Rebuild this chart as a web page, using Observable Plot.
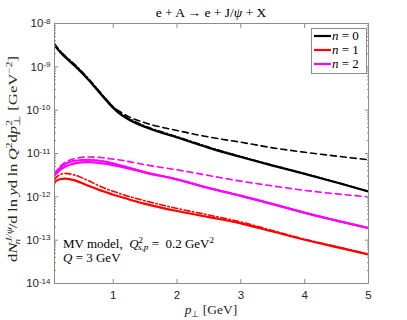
<!DOCTYPE html>
<html><head><meta charset="utf-8">
<script src="https://cdn.jsdelivr.net/npm/d3@7"></script>
<script src="https://cdn.jsdelivr.net/npm/@observablehq/plot@0.6"></script>
<style>body{margin:0;background:#fff} svg{display:block}</style>
</head><body><div id="chart"></div>
<script>
// transverse momentum p_perp [GeV]
const pt = [0.08, 0.15, 0.25, 0.4, 0.6, 0.8, 0.9, 1.0, 1.1, 1.25, 1.5, 2, 2.5, 3, 3.5, 4, 4.5, 5];

// n = 0 (black)
const n0Solid   = [3.16e-9, 2.34e-9, 1.66e-9, 1.05e-9, 5.25e-10, 2.4e-10, 1.62e-10, 1.12e-10, 8.3e-11, 6.0e-11, 4.07e-11, 2.34e-11, 1.35e-11, 8.3e-12, 5.25e-12, 3.39e-12, 2.14e-12, 1.32e-12];
const n0DashDot = [3.4e-9, 2.5e-9, 1.78e-9, 1.12e-9, 5.6e-10, 2.55e-10, 1.72e-10, 1.19e-10, 8.8e-11, 6.4e-11, 4.3e-11, 2.45e-11, 1.4e-11, 8.5e-12, 5.35e-12, 3.43e-12, 2.16e-12, 1.33e-12];
const n0Dashed  = [3.3e-9, 2.4e-9, 1.7e-9, 1.08e-9, 5.4e-10, 2.5e-10, 1.7e-10, 1.2e-10, 9.3e-11, 7.0e-11, 5.1e-11, 3.4e-11, 2.4e-11, 1.82e-11, 1.35e-11, 1.07e-11, 8.7e-12, 7.2e-12];

// n = 1 (red)
const n1Solid   = [2.19e-12, 2.51e-12, 2.63e-12, 2.4e-12, 1.82e-12, 1.41e-12, 1.26e-12, 1.12e-12, 1.02e-12, 8.7e-13, 6.9e-13, 4.7e-13, 3.4e-13, 2.45e-13, 1.58e-13, 1.02e-13, 6.9e-14, 4.7e-14];
const n1DashDot = [2.51e-12, 3.16e-12, 3.47e-12, 3.16e-12, 2.4e-12, 1.74e-12, 1.51e-12, 1.35e-12, 1.2e-12, 1.02e-12, 8.1e-13, 5.4e-13, 3.8e-13, 2.63e-13, 1.66e-13, 1.05e-13, 7.1e-14, 4.8e-14];

// n = 2 (magenta)
const n2Solid   = [3.09e-12, 3.98e-12, 5.0e-12, 5.9e-12, 6.3e-12, 6.0e-12, 5.75e-12, 5.37e-12, 5.0e-12, 4.47e-12, 3.63e-12, 2.51e-12, 1.58e-12, 1.05e-12, 6.8e-13, 4.27e-13, 2.82e-13, 1.9e-13];
const n2Dotted  = [3.24e-12, 4.4e-12, 5.75e-12, 6.8e-12, 7.1e-12, 6.8e-12, 6.4e-12, 5.9e-12, 5.4e-12, 4.7e-12, 3.7e-12, 2.53e-12, 1.6e-12, 1.06e-12, 6.8e-13, 4.3e-13, 2.83e-13, 1.9e-13];
const n2Dashed  = [3.3e-12, 4.7e-12, 6.3e-12, 7.6e-12, 8.3e-12, 8.1e-12, 7.8e-12, 7.4e-12, 7.1e-12, 6.5e-12, 5.5e-12, 4.2e-12, 3.1e-12, 2.3e-12, 1.78e-12, 1.41e-12, 1.17e-12, 1.0e-12];

const xTicks = [1, 2, 3, 4, 5];
const decades = [-14, -13, -12, -11, -10, -9, -8];
const legendLabels = ["n = 0", "n = 1", "n = 2"];
const colors = {0: "#000000", 1: "#ff0000", 2: "#ff00ff"};

const series = [
  {n: 0, style: "solid", v: n0Solid}, {n: 0, style: "dashdot", v: n0DashDot}, {n: 0, style: "dashed", v: n0Dashed},
  {n: 1, style: "solid", v: n1Solid}, {n: 1, style: "dashdot", v: n1DashDot},
  {n: 2, style: "solid", v: n2Solid}, {n: 2, style: "dotted", v: n2Dotted}, {n: 2, style: "dashed", v: n2Dashed}
];
const rows = series.flatMap(s => s.v.map((v, i) => ({n: s.n, style: s.style, key: s.n + s.style, pt: pt[i], v, color: colors[s.n]})));
const styles = {
  solid:   {strokeWidth: 2.2, strokeDasharray: null},
  dashed:  {strokeWidth: 1.6, strokeDasharray: "6,4"},
  dashdot: {strokeWidth: 1.6, strokeDasharray: "6,2.5,1.5,2.5"},
  dotted:  {strokeWidth: 2.2, strokeDasharray: "1.5,1.8"}
};
const majorY = decades.map(k => Math.pow(10, k));
const minorY = [];
for (const k of decades.slice(0, -1)) for (let m = 2; m <= 9; m++) minorY.push(m * Math.pow(10, k));

const lineMarks = ["dashed", "dashdot", "dotted", "solid"].map(st =>
  Plot.line(rows.filter(d => d.style === st), {
    x: "pt", y: "v", z: "key", stroke: "color", curve: "monotone-x",
    strokeWidth: styles[st].strokeWidth, strokeDasharray: styles[st].strokeDasharray,
    strokeLinejoin: "round", clip: true
  })
);

const axisColor = "#262626";
const plot = Plot.plot({
  width: 407, height: 320,
  marginTop: 23, marginBottom: 37, marginLeft: 54, marginRight: 39,
  style: {fontFamily: "Liberation Sans, Arial, sans-serif", fontSize: "11.5px", color: axisColor, background: "#fff"},
  x: {domain: [0.08, 5]},
  y: {type: "log", domain: [1e-14, 1e-8]},
  color: {type: "identity"},
  marks: [
    ...lineMarks,
    Plot.frame({stroke: "#8c8c8c", strokeWidth: 1}),
    Plot.axisX({ticks: xTicks, tickSize: 0, tickPadding: 7, label: null, tickFormat: d => String(d)}),
    Plot.axisY({ticks: majorY, tickSize: 0, tickPadding: 4, label: null, tickFormat: d => String(Math.round(Math.log10(d)))}),
    Plot.axisX({ticks: xTicks, tickSize: -4, fill: "none", label: null, stroke: "#8c8c8c"}),
    Plot.axisX({anchor: "top", ticks: xTicks, tickSize: -4, fill: "none", label: null, stroke: "#8c8c8c"}),
    Plot.axisY({ticks: majorY, tickSize: -4, fill: "none", label: null, stroke: "#8c8c8c"}),
    Plot.axisY({anchor: "right", ticks: majorY, tickSize: -4, fill: "none", label: null, stroke: "#8c8c8c"}),
    Plot.axisY({ticks: minorY, tickSize: -2, fill: "none", label: null, stroke: "#8c8c8c"}),
    Plot.axisY({anchor: "right", ticks: minorY, tickSize: -2, fill: "none", label: null, stroke: "#8c8c8c"})
  ]
});

const svg = d3.select(plot);
svg.selectAll('g[aria-label="y-axis tick label"] text').each(function() {
  const t = d3.select(this);
  const e = t.text();
  t.text("");
  t.append("tspan").text("10");
  t.append("tspan").attr("dy", "-0.45em").attr("font-size", "8px").text(e);
});

const serif = "Liberation Serif, Times New Roman, serif";
function txt(x, y, anchor, size, fill) {
  return svg.append("text").attr("x", x).attr("y", y).attr("text-anchor", anchor)
    .attr("font-family", serif).attr("font-size", size).attr("fill", fill);
}
// title
const title = txt(211, 17, "middle", "13.5px", "#000");
title.append("tspan").text("e + A \u2192 e + J/");
title.append("tspan").attr("font-style", "italic").text("\u03c8");
title.append("tspan").text(" + X");

// x label
const xl = txt(211, 314, "middle", "13.5px", axisColor);
xl.append("tspan").attr("font-style", "italic").text("p");
xl.append("tspan").attr("dy", "3").attr("font-size", "9px").text("\u22a5");
xl.append("tspan").attr("dy", "-3").text(" [GeV]");

// y label
const th = "\u2009";
const yl = svg.append("text").attr("transform", "translate(17,159) rotate(-90)").attr("text-anchor", "middle")
  .attr("font-family", serif).attr("font-size", "12.5px").attr("fill", axisColor)
  .attr("textLength", 206).attr("lengthAdjust", "spacingAndGlyphs");
yl.append("tspan").text("d");
yl.append("tspan").attr("font-style", "italic").text("N");
yl.append("tspan").attr("dy", "-5").attr("font-size", "8.5px").attr("font-style", "italic").text("J/\u03c8");
yl.append("tspan").attr("dx", "-13").attr("dy", "8").attr("font-size", "8.5px").attr("font-style", "italic").text("n");
yl.append("tspan").attr("dx", "8").attr("dy", "-3").text("/d" + th + "ln" + th);
yl.append("tspan").attr("font-style", "italic").text("y");
yl.append("tspan").text("d" + th + "ln" + th);
yl.append("tspan").attr("font-style", "italic").text("Q");
yl.append("tspan").attr("dy", "-5").attr("font-size", "8.5px").text("2");
yl.append("tspan").attr("dy", "5").text("d");
yl.append("tspan").attr("font-style", "italic").text("p");
yl.append("tspan").attr("dy", "-5").attr("font-size", "8.5px").text("2");
yl.append("tspan").attr("dx", "-4").attr("dy", "8").attr("font-size", "8.5px").text("\u22a5");
yl.append("tspan").attr("dy", "-3").text(" [GeV");
yl.append("tspan").attr("dy", "-5").attr("font-size", "8.5px").text("\u22122");
yl.append("tspan").attr("dy", "5").text("]");

// annotation
const a1 = txt(63, 248, "start", "13px", "#000");
a1.append("tspan").text("MV model,  ");
a1.append("tspan").attr("font-style", "italic").text("Q");
a1.append("tspan").attr("dy", "-5").attr("font-size", "9px").text("2");
a1.append("tspan").attr("dx", "-5").attr("dy", "7").attr("font-size", "9px").attr("font-style", "italic").text("s,p");
a1.append("tspan").attr("dy", "-2").text(" =  0.2 GeV");
a1.append("tspan").attr("dy", "-5").attr("font-size", "9px").text("2");
const a2 = txt(63, 262, "start", "13px", "#000");
a2.append("tspan").attr("font-style", "italic").text("Q");
a2.append("tspan").text(" = 3 GeV");

// legend
const lg = svg.append("g");
lg.append("rect").attr("x", 311.5).attr("y", 28.5).attr("width", 55).attr("height", 45)
  .attr("fill", "#fff").attr("stroke", "#8c8c8c");
legendLabels.forEach((lab, i) => {
  const y = 36 + i * 14;
  lg.append("line").attr("x1", 314).attr("x2", 331).attr("y1", y).attr("y2", y)
    .attr("stroke", colors[i]).attr("stroke-width", 2.2);
  const parts = lab.split(" = ");
  const t = txt(332, y + 4, "start", "13px", "#000");
  t.append("tspan").attr("font-style", "italic").text(parts[0]);
  t.append("tspan").text(" = " + parts[1]);
});

document.getElementById("chart").appendChild(plot);
</script>
</body></html>
